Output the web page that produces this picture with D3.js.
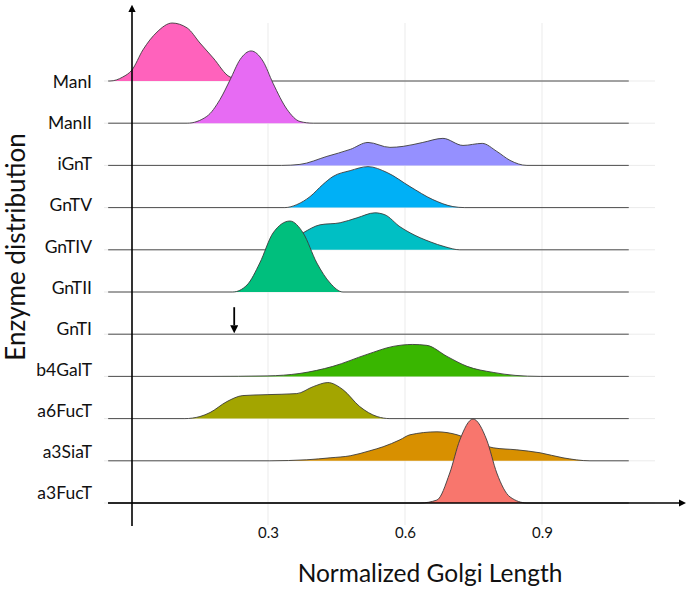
<!DOCTYPE html>
<html>
  <head>
    <meta charset="utf-8">
    <title>Enzyme distribution ridgeline</title>
    <style>
      body { margin: 0; background: #fff; }
      text { font-family: Lato, "Open Sans", sans-serif; fill: #111; }
    </style>
  </head>
  <body>
    <div id="container"></div>
    <script src="https://d3js.org/d3.v7.min.js"></script>
    <script>

      // DATA: [normalized golgi length, density]
      var enzymes = ["ManI", "ManII", "iGnT", "GnTV", "GnTIV", "GnTII", "GnTI", "b4GalT", "a6FucT", "a3SiaT", "a3FucT"];
      var colors = ["#FF62BC", "#E76BF3", "#9590FF", "#00B0F6", "#00BFC4", "#00BF7D", "#999999", "#39B600", "#A3A500", "#D89000", "#F8766D"];
      var xTicks = [0.3, 0.6, 0.9];

      var manI = [[-0.046, 0], [-0.018, 0.47], [0.002, 1.29], [0.026, 3.65], [0.057, 5.76], [0.09, 6.82],
        [0.123, 6.24], [0.151, 4.47], [0.18, 2.71], [0.217, 0.47], [0.26, 0]];
      var manII = [[0.123, 0], [0.166, 0.8], [0.195, 2.8], [0.217, 5.1], [0.239, 7.5], [0.263, 8.5],
        [0.289, 7.3], [0.311, 4.7], [0.342, 1.6], [0.37, 0.2], [0.399, 0]];
      var iGnT = [[0.33, 0], [0.37, 0.12], [0.429, 1.06], [0.48, 1.88], [0.519, 2.7], [0.567, 2.12], [0.596, 2.24],
        [0.639, 2.7], [0.683, 3.18], [0.727, 2.35], [0.769, 2.59], [0.801, 1.65], [0.83, 0.59], [0.867, 0]];
      var gnTV = [[0.337, 0], [0.363, 0.35], [0.392, 1.29], [0.42, 2.71], [0.442, 3.65], [0.48, 4.35], [0.519, 4.82],
        [0.561, 4.12], [0.611, 2.47], [0.661, 0.94], [0.705, 0.12], [0.731, 0]];
      var gnTIV = [[0.293, 0], [0.326, 0.47], [0.353, 1.18], [0.377, 2.0], [0.414, 2.94], [0.458, 3.18], [0.495, 3.76],
        [0.534, 4.35], [0.556, 4.12], [0.589, 2.71], [0.611, 2.0], [0.655, 0.94], [0.688, 0.35], [0.72, 0]];
      var gnTII = [[0.223, 0], [0.254, 0.82], [0.282, 3.41], [0.311, 6.94], [0.348, 8.35], [0.377, 6.94],
        [0.407, 3.41], [0.436, 1.06], [0.464, 0]];
      var gnTI = [];
      var b4GalT = [[0.173, 0], [0.298, 0.06], [0.37, 0.35], [0.442, 1.18], [0.517, 2.59], [0.574, 3.53], [0.617, 3.76],
        [0.648, 3.65], [0.692, 2.35], [0.736, 1.18], [0.793, 0.47], [0.841, 0.12], [0.896, 0]];
      var a6FucT = [[0.118, 0], [0.151, 0.24], [0.173, 0.71], [0.21, 2.0], [0.245, 2.71], [0.298, 2.82], [0.363, 2.94],
        [0.399, 3.76], [0.431, 4.24], [0.464, 3.41], [0.501, 1.41], [0.539, 0.24], [0.567, 0]];
      var a3SiaT = [[0.304, 0], [0.385, 0.12], [0.436, 0.35], [0.48, 0.59], [0.523, 1.18], [0.552, 1.65], [0.589, 2.47],
        [0.611, 3.06], [0.67, 3.41], [0.714, 3.06], [0.753, 2.24], [0.793, 1.53], [0.845, 1.29], [0.896, 0.94],
        [0.946, 0.35], [1.005, 0]];
      var a3FucT = [[0.633, 0], [0.67, 0.35], [0.698, 3.53], [0.72, 7.41], [0.749, 9.88], [0.779, 7.41],
        [0.801, 3.53], [0.83, 0.71], [0.867, 0]];

      var densities = [manI, manII, iGnT, gnTV, gnTIV, gnTII, gnTI, b4GalT, a6FucT, a3SiaT, a3FucT];
      var xExtent = [-0.05, 1.09];   // range every ridge outline covers
      var arrowAt = { enzyme: "GnTI", x: 0.226 };

      // SIZE
      var width = 688, height = 589;

      var svg = d3.select("#container")
        .append("svg")
        .attr("width", width)
        .attr("height", height);

      // SCALES
      var x = d3.scaleLinear().domain([0, 0.9]).range([131, 542]);
      var y = d3.scalePoint().domain(enzymes).range([81, 503]);
      var yLabel = d3.scalePoint().domain(enzymes).range([82, 493]);
      var h = d3.scaleLinear().domain([0, 10]).range([0, 85]);

      // GRID
      var grid = svg.append("g").attr("stroke", "#ebebeb").attr("stroke-width", 1);
      grid.selectAll(".vg")
        .data(xTicks)
        .enter()
        .append("line")
        .attr("x1", d => x(d)).attr("x2", d => x(d))
        .attr("y1", 23).attr("y2", 525);
      grid.selectAll(".hg")
        .data(enzymes)
        .enter()
        .append("line")
        .attr("x1", 104).attr("x2", 655)
        .attr("y1", d => y(d)).attr("y2", d => y(d));

      // RIDGES (top row first, lower rows drawn on top)
      var area = d3.area()
        .curve(d3.curveMonotoneX)
        .x(d => x(d[0]))
        .y0(0)
        .y1(d => -h(d[1]));
      var line = d3.line()
        .curve(d3.curveMonotoneX)
        .x(d => x(d[0]))
        .y(d => -h(d[1]));

      var ridges = svg.selectAll(".ridge")
        .data(enzymes)
        .enter()
        .append("g")
        .attr("transform", d => "translate(0," + y(d) + ")");

      ridges.each(function (name, i) {
        var pts = [[xExtent[0], 0]].concat(densities[i], [[xExtent[1], 0]]);
        var g = d3.select(this);
        g.append("path")
          .datum(pts)
          .attr("fill", colors[i])
          .attr("d", area);
        g.append("path")
          .datum(pts)
          .attr("fill", "none")
          .attr("stroke", "#3c3c3c")
          .attr("stroke-width", 0.9)
          .attr("d", line);
      });

      // ARROW MARKER
      var defs = svg.append("defs");
      defs.append("marker")
        .attr("id", "head")
        .attr("viewBox", "0 0 10 10")
        .attr("refX", 0).attr("refY", 5)
        .attr("markerWidth", 4.5).attr("markerHeight", 4.5)
        .attr("orient", "auto")
        .append("path")
        .attr("d", "M0,0 L10,5 L0,10 z")
        .attr("fill", "#000");

      // AXIS LINES
      svg.append("line")
        .attr("x1", x(0) + 1).attr("x2", x(0) + 1)
        .attr("y1", 526).attr("y2", 12)
        .attr("stroke", "#000").attr("stroke-width", 1.6)
        .attr("marker-end", "url(#head)");
      svg.append("line")
        .attr("x1", 108).attr("x2", 679)
        .attr("y1", y("a3FucT")).attr("y2", y("a3FucT"))
        .attr("stroke", "#000").attr("stroke-width", 1.6)
        .attr("marker-end", "url(#head)");

      // MARKER ARROW ON GnTI
      svg.append("line")
        .attr("x1", x(arrowAt.x)).attr("x2", x(arrowAt.x))
        .attr("y1", y(arrowAt.enzyme) - 27).attr("y2", y(arrowAt.enzyme) - 9)
        .attr("stroke", "#000").attr("stroke-width", 1.8)
        .attr("marker-end", "url(#head)");

      // X TICKS
      var xAxis = svg.append("g")
        .attr("transform", "translate(0," + y("a3FucT") + ")")
        .call(d3.axisBottom(x).tickValues(xTicks).tickSize(0).tickPadding(24).tickFormat(d3.format(".1f")));
      xAxis.select(".domain").remove();
      xAxis.selectAll("text").style("font-size", "15px").style("font-family", "Lato, sans-serif").attr("fill", "#111");

      // Y LABELS
      var yAxis = svg.append("g")
        .attr("transform", "translate(94,0)")
        .call(d3.axisLeft(yLabel).tickSize(0).tickPadding(2));
      yAxis.select(".domain").remove();
      yAxis.selectAll("text").style("font-size", "17.5px").style("font-family", "Lato, sans-serif").attr("fill", "#111");

      // TITLES
      svg.append("text")
        .attr("x", 430).attr("y", 582)
        .attr("text-anchor", "middle")
        .style("font-size", "24.5px")
        .text("Normalized Golgi Length");
      svg.append("text")
        .attr("transform", "translate(25,247) rotate(-90)")
        .attr("text-anchor", "middle")
        .style("font-size", "26px")
        .text("Enzyme distribution");

    </script>
  </body>
</html>
